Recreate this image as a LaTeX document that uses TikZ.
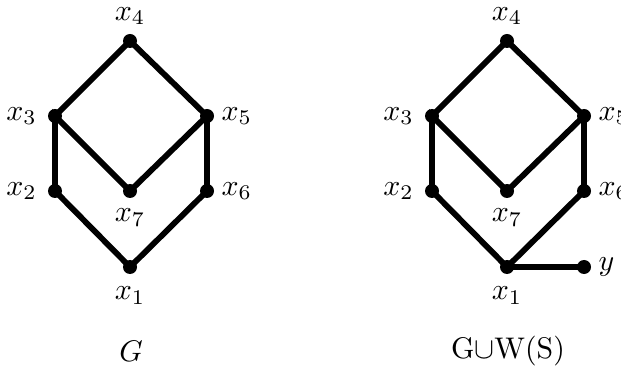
\documentclass[tikz,border=0pt]{standalone}
\usepackage{amssymb}
\newcommand{\pxu}{0.335pt}
\begin{document}
\begin{tikzpicture}[x=\pxu,y=-\pxu,
  vtx/.style={circle,fill=black,inner sep=0pt,minimum size=14*\pxu},
  edge/.style={line width=5.8*\pxu},
  every label/.style={inner sep=0.3333em},
  rlab/.style={label={[label distance=-3.5*\pxu]right:#1}},
  tlab/.style={label={[label distance=-2*\pxu]above:#1}}]
\useasboundingbox (0,0) rectangle (621,368);

% left graph G
\begin{scope}
\node[vtx,tlab=$x_4$]        (a4) at (130,41) {};
\node[vtx,label=left:$x_3$]  (a3) at (55,116) {};
\node[vtx,rlab=$x_5$]        (a5) at (207,116) {};
\node[vtx,label=left:$x_2$]  (a2) at (55,191) {};
\node[vtx,rlab=$x_6$]        (a6) at (207,191) {};
\node[vtx,label=below:$x_7$] (a7) at (130,191) {};
\node[vtx,label={[label distance=2*\pxu]below:$x_1$}] (a1) at (130,267) {};
\draw[edge] (a3.center) -- (a4.center) -- (a5.center) -- (a7.center) -- (a3.center) -- (a2.center) -- (a1.center) -- (a6.center) -- (a5.center);
\node (gl) at (131,351) {$G$};
\end{scope}

% right graph G with the extra vertex y
\begin{scope}[xshift=377*\pxu]
\node[vtx,tlab=$x_4$]        (b4) at (130,41) {};
\node[vtx,label=left:$x_3$]  (b3) at (55,116) {};
\node[vtx,rlab=$x_5$]        (b5) at (207,116) {};
\node[vtx,label=left:$x_2$]  (b2) at (55,191) {};
\node[vtx,rlab=$x_6$]        (b6) at (207,191) {};
\node[vtx,label=below:$x_7$] (b7) at (130,191) {};
\node[vtx,label={[label distance=2*\pxu]below:$x_1$}] (b1) at (130,267) {};
\node[vtx,rlab=$y$]          (by) at (207,267) {};
\draw[edge] (b3.center) -- (b4.center) -- (b5.center) -- (b7.center) -- (b3.center) -- (b2.center) -- (b1.center) -- (b6.center) -- (b5.center);
\draw[edge] (b1.center) -- (by.center);
\node (gr) at (131,351) {G$\cup$W(S)};
\end{scope}
\end{tikzpicture}
\end{document}
